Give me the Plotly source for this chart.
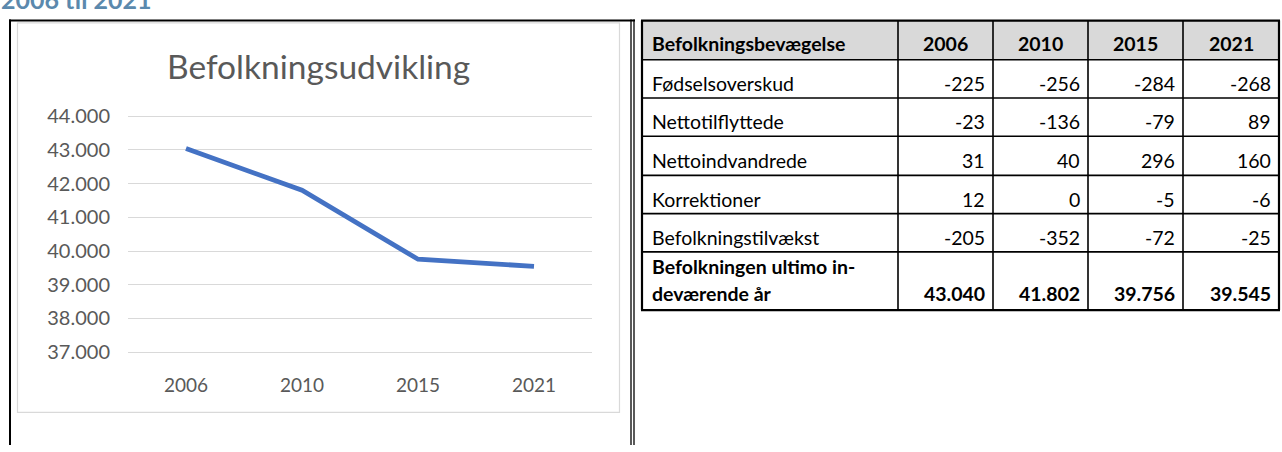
import plotly.graph_objects as go

# ---------------- data ----------------
years = ["2006", "2010", "2015", "2021"]
population = [43040, 41802, 39756, 39545]

table_title = "Befolkningsbevægelse"
row_labels = ["Fødselsoverskud", "Nettotilflyttede", "Nettoindvandrede",
              "Korrektioner", "Befolkningstilvækst"]
births_surplus = [-225, -256, -284, -268]
net_moved_in = [-23, -136, -79, 89]
net_immigrated = [31, 40, 296, 160]
corrections = [12, 0, -5, -6]
growth = [-205, -352, -72, -25]
row_values = [births_surplus, net_moved_in, net_immigrated, corrections, growth]
total_label = ["Befolkningen ultimo in-", "deværende år"]

chart_title = "Befolkningsudvikling"
heading = "2006 til 2021"
y_ticks = [37000, 38000, 39000, 40000, 41000, 42000, 43000, 44000]

# ---------------- layout constants (pixels) ----------------
W, H = 1282, 452
FONT = "Lato"
GREY = "#595959"


def px(x):
    return x / W


def py(y):
    return 1 - y / H


# plot area
PL, PR = 128, 592
Y_TOP_PX, Y_BOT_PX = 110, 357  # 44.000 and 37.000
unit = (Y_BOT_PX - Y_TOP_PX) / 7000.0
pad_px = 2
y_range = [37000 - pad_px / unit, 44000 + pad_px / unit]

fig = go.Figure()
fig.add_trace(go.Scatter(
    x=years, y=population, mode="lines",
    line=dict(color="#4472C4", width=4.8),
    hoverinfo="skip", showlegend=False,
))

shapes = []
annotations = []

# document frame lines
shapes.append(dict(type="line", xref="paper", yref="paper",
                   x0=px(10), x1=px(10), y0=py(9), y1=py(H + 2),
                   line=dict(color="black", width=2)))
shapes.append(dict(type="line", xref="paper", yref="paper",
                   x0=px(9), x1=px(635), y0=py(10), y1=py(10),
                   line=dict(color="black", width=2)))
for xx in (631, 634):
    shapes.append(dict(type="line", xref="paper", yref="paper",
                       x0=px(xx), x1=px(xx), y0=py(9), y1=py(H + 2),
                       line=dict(color="black", width=1.3)))

# chart frame
shapes.append(dict(type="rect", xref="paper", yref="paper",
                   x0=px(17.5), x1=px(619.5), y0=py(12.5), y1=py(420),
                   line=dict(color="#d9d9d9", width=1.2), fillcolor="rgba(0,0,0,0)",
                   layer="below"))

# heading (cut off at top of page)
annotations.append(dict(text="<b>" + heading + "</b>", xref="paper", yref="paper",
                        x=px(-1), y=py(5), xanchor="left", yanchor="bottom",
                        showarrow=False,
                        font=dict(family=FONT, size=25, color="#5b89ad")))

# chart title
annotations.append(dict(text=chart_title, xref="paper", yref="paper",
                        x=px(318), y=py(58), xanchor="center", yanchor="middle",
                        showarrow=False,
                        font=dict(family=FONT, size=33.5, color=GREY)))

# ---------------- table ----------------
TL, TR = 642, 1279
col_x = [TL, 898, 993, 1088, 1183, TR]
row_y = [10, 51, 91, 131, 172, 212, 252, 313]

# header fill
shapes.append(dict(type="rect", xref="paper", yref="paper",
                   x0=px(TL), x1=px(TR), y0=py(row_y[0]), y1=py(row_y[1]),
                   line=dict(width=0), fillcolor="#d9d9d9", layer="below"))
# horizontal lines
for i, yy in enumerate(row_y):
    w = 2.2 if i in (0, len(row_y) - 1) else 1.6
    shapes.append(dict(type="line", xref="paper", yref="paper",
                       x0=px(TL - 1), x1=px(TR + 1), y0=py(yy), y1=py(yy),
                       line=dict(color="black", width=w)))
# vertical lines
for i, xx in enumerate(col_x):
    w = 2.2 if i in (0, len(col_x) - 1) else 1.6
    shapes.append(dict(type="line", xref="paper", yref="paper",
                       x0=px(xx), x1=px(xx), y0=py(row_y[0]), y1=py(row_y[-1]),
                       line=dict(color="black", width=w)))

TFS = 19.5
tfont = dict(family=FONT, size=TFS, color="black")


def cell_text(text, col, ycen, bold=False, align="right"):
    if bold:
        text = "<b>" + text + "</b>"
    if align == "left":
        x, xa = px(col_x[col] + 8), "left"
    elif align == "center":
        x, xa = px((col_x[col] + col_x[col + 1]) / 2), "center"
    else:
        x, xa = px(col_x[col + 1] - 6), "right"
    annotations.append(dict(text=text, xref="paper", yref="paper", x=x, y=py(ycen),
                            xanchor=xa, yanchor="middle", showarrow=False,
                            font=tfont))


def fmt(v):
    return f"{v:,}".replace(",", ".")


# header
hy = (row_y[0] + row_y[1]) / 2 + 3
cell_text(table_title, 0, hy, bold=True, align="left")
for j, yr in enumerate(years):
    cell_text(yr, j + 1, hy, bold=True, align="center")

# body rows
for i, (lab, vals) in enumerate(zip(row_labels, row_values)):
    yc = (row_y[i + 1] + row_y[i + 2]) / 2 + 5
    cell_text(lab, 0, yc, align="left")
    for j, v in enumerate(vals):
        cell_text(fmt(v), j + 1, yc)

# total row
cell_text(total_label[0], 0, 267, bold=True, align="left")
cell_text(total_label[1], 0, 296, bold=True, align="left")
for j, v in enumerate(population):
    cell_text(fmt(v), j + 1, 296, bold=True)

fig.update_layout(
    width=W, height=H,
    margin=dict(l=0, r=0, t=0, b=0),
    paper_bgcolor="white", plot_bgcolor="white",
    separators=",.",
    font=dict(family=FONT, color=GREY),
    shapes=shapes, annotations=annotations,
    xaxis=dict(domain=[px(PL), px(PR)], type="category", range=[-0.5, 3.5],
               showgrid=False, zeroline=False, showline=False, ticks="",
               tickfont=dict(family=FONT, size=19, color=GREY),
               ticklabelstandoff=18, fixedrange=True),
    yaxis=dict(domain=[py(Y_BOT_PX + pad_px), py(Y_TOP_PX - pad_px)],
               range=y_range, tickvals=y_ticks, tickformat=",d",
               showgrid=True, gridcolor="#d9d9d9", gridwidth=1.2,
               zeroline=False, showline=False, ticks="",
               tickfont=dict(family=FONT, size=20, color=GREY),
               ticklabelstandoff=17, fixedrange=True),
)

fig.write_html(
    "out.html",
    config={"displayModeBar": False},
    post_script="document.body.style.margin='0';document.body.style.overflow='hidden';",
)
